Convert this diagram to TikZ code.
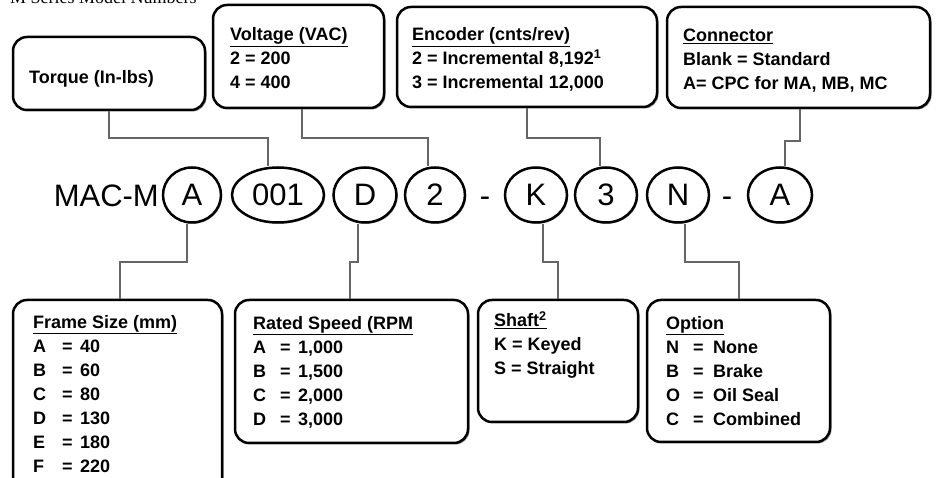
\documentclass[tikz,border=0pt]{standalone}
\usepackage{fontspec}
\setmainfont{Liberation Sans}
\newfontfamily\seriffam{Liberation Serif}
\usetikzlibrary{shapes.geometric,shadows}
\newcommand\ttl[1]{\underline{#1}}
\newcommand\kvrow[4]{\makebox[#1][l]{#2}\makebox[#3][l]{=}#4}
\begin{document}
\begin{tikzpicture}[x=1pt,y=-1pt,
  box/.style={draw=black, line width=2.5pt, rounded corners=14pt, fill=white, inner sep=0pt,
    drop shadow={shadow xshift=1.5pt, shadow yshift=-1.5pt, fill=black!40, opacity=1}},
  circ/.style={ellipse, draw=black, line width=2.5pt, fill=white, minimum height=55pt, inner sep=0pt,
    font=\fontsize{31}{31}\selectfont,
    drop shadow={shadow xshift=1.2pt, shadow yshift=-1.2pt, fill=black!40, opacity=1}},
  txt/.style={inner sep=0pt, anchor=base west, font=\fontsize{18}{24}\selectfont\bfseries},
  big/.style={inner sep=0pt, anchor=base, font=\fontsize{31}{31}\selectfont},
  conn/.style={draw=black!60, line width=2pt}]
\useasboundingbox (0,0) rectangle (938,478);
\clip (0,0) rectangle (938,478);
\fill[white] (0,0) rectangle (938,478);

% title (cut at top)
\node[inner sep=0pt, anchor=base west, font=\seriffam\fontsize{18}{18}\selectfont] (title) at (10,3.5) {M Series Model Numbers};

% top boxes
\node[box, minimum width=192pt, minimum height=73pt] (torque) at (109,73.5) {};
\node[box, minimum width=171pt, minimum height=103pt] (voltage) at (298.5,56.5) {};
\node[box, minimum width=260pt, minimum height=100pt] (encoder) at (527,57) {};
\node[box, minimum width=263pt, minimum height=101pt] (connector) at (798.5,57.5) {};

\node[txt] (torquetxt) at (29,83.5) {Torque (In-lbs)};
\node[txt] (voltagetxt) at (230,41) {\begin{tabular}[t]{@{}l@{}}\ttl{Voltage (VAC)}\\ 2 = 200\\ 4 = 400\end{tabular}};
\node[txt] (encodertxt) at (412,41) {\begin{tabular}[t]{@{}l@{}}\ttl{Encoder (cnts/rev)}\\ 2 = Incremental 8,192\textsuperscript{1}\\ 3 = Incremental 12,000\end{tabular}};
\node[txt] (connectortxt) at (683,42) {\begin{tabular}[t]{@{}l@{}}\ttl{Connector}\\ Blank = Standard\\ A= CPC for MA, MB, MC\end{tabular}};

% bottom boxes
\node[box, minimum width=209pt, minimum height=200pt] (frame) at (117.5,400) {};
\node[box, minimum width=233pt, minimum height=143pt] (rated) at (351.5,371.5) {};
\node[box, minimum width=160pt, minimum height=122pt] (shaft) at (558,361) {};
\node[box, minimum width=183pt, minimum height=142pt] (option) at (738.5,371) {};

\node[txt] (frametxt) at (33,328.5) {\begin{tabular}[t]{@{}l@{}}\ttl{Frame Size (mm)}\\
  \kvrow{29pt}{A}{18pt}{40}\\ \kvrow{29pt}{B}{18pt}{60}\\ \kvrow{29pt}{C}{18pt}{80}\\
  \kvrow{29pt}{D}{18pt}{130}\\ \kvrow{29pt}{E}{18pt}{180}\\ \kvrow{29pt}{F}{18pt}{220}\end{tabular}};
\node[txt] (ratedtxt) at (253,329.5) {\begin{tabular}[t]{@{}l@{}}\ttl{Rated Speed (RPM}\\
  \kvrow{27pt}{A}{18pt}{1,000}\\ \kvrow{27pt}{B}{18pt}{1,500}\\ \kvrow{27pt}{C}{18pt}{2,000}\\
  \kvrow{27pt}{D}{18pt}{3,000}\end{tabular}};
\node[txt] (shafttxt) at (494,327) {\begin{tabular}[t]{@{}l@{}}\ttl{Shaft\textsuperscript{2}}\\ K = Keyed\\ S = Straight\end{tabular}};
\node[txt] (optiontxt) at (666,329.5) {\begin{tabular}[t]{@{}l@{}}\ttl{Option}\\
  \kvrow{27pt}{N}{20pt}{None}\\ \kvrow{27pt}{B}{20pt}{Brake}\\ \kvrow{27pt}{O}{20pt}{Oil Seal}\\
  \kvrow{27pt}{C}{20pt}{Combined}\end{tabular}};

% model number row
\node[big, anchor=base east] (mac) at (159,207) {MAC-M};
\node[circ, minimum width=58pt] (cA) at (192,195) {A};
\node[circ, minimum width=92pt] (c001) at (278,195) {001};
\node[circ, minimum width=63pt] (cD) at (365,195) {D};
\node[circ, minimum width=60pt] (c2) at (435,195) {2};
\node[big] (dash1) at (485,207) {-};
\node[circ, minimum width=62pt] (cK) at (536,195) {K};
\node[circ, minimum width=62pt] (c3) at (606,195) {3};
\node[circ, minimum width=62pt] (cN) at (678,195) {N};
\node[big] (dash2) at (727,207) {-};
\node[circ, minimum width=64pt] (cA2) at (780,195) {A};

% connectors top
\draw[conn] (torque.south) -- ++(0,27) -| ([xshift=-10pt]c001.north);
\draw[conn] ([xshift=3.5pt]voltage.south) -- ++(0,29) -| ([xshift=-7pt]c2.north);
\draw[conn] (encoder.south) -- ++(0,30) -| ([xshift=-6pt]c3.north);
\draw[conn] ([xshift=1.5pt]connector.south) -- ++(0,32) -| ([xshift=5pt]cA2.north);
% connectors bottom
\draw[conn] ([xshift=-5pt]cA.south) -- ++(0,38) -| ([xshift=2.5pt]frame.north);
\draw[conn] ([xshift=-7pt]cD.south) -- ++(0,38) -| ([xshift=-1.5pt]rated.north);
\draw[conn] ([xshift=7pt]cK.south) -- ++(0,38) -| (shaft.north);
\draw[conn] ([xshift=7pt]cN.south) -- ++(0,38) -| (option.north);
\end{tikzpicture}
\end{document}
